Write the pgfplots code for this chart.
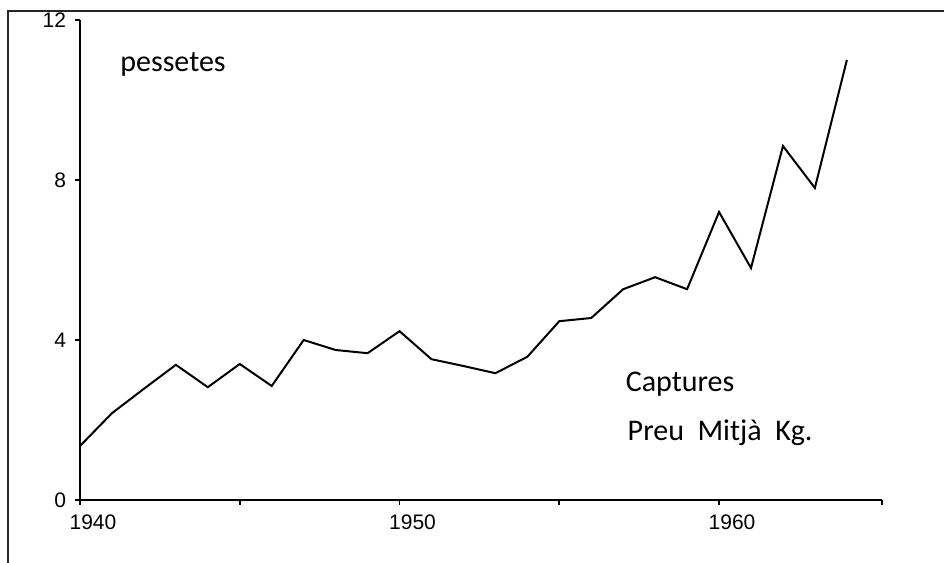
\documentclass[border=0pt]{standalone}
\usepackage{pgfplots}
\pgfplotsset{compat=1.18}
\usepackage{fontspec}
\setmainfont{Liberation Sans}
\newfontfamily\calibri{Carlito}

\begin{document}
\begin{tikzpicture}
\begin{axis}[
    scale only axis,
    width=401pt, height=240pt,
    xmin=1940, xmax=1965.1,
    ymin=0, ymax=12,
    axis lines=left,
    axis line style={-, line width=0.8pt},
    tick align=outside,
    major tick length=2.5pt,
    tick style={line width=0.8pt, black},
    xtick={1940,1945,1950,1955,1960,1965.1},
    xticklabels={1940,,1950,,1960,},
    ytick={0,4,8,12},
    xticklabel style={xshift=6.5pt, yshift=-1.5pt},
    yticklabel style={xshift=-1pt},
    ticklabel style={font=\fontsize{10.5}{11}\selectfont},
    /pgf/number format/assume math mode=true,
    clip=false,
]
\addplot[black, line width=1pt] table {
1940 1.35
1941 2.17
1942 2.78
1943 3.38
1944 2.82
1945 3.40
1946 2.85
1947 4.00
1948 3.75
1949 3.67
1950 4.22
1951 3.52
1952 3.35
1953 3.17
1954 3.58
1955 4.47
1956 4.55
1957 5.27
1958 5.57
1959 5.27
1960 7.20
1961 5.80
1962 8.85
1963 7.80
1964 11.00
};
\node[anchor=base west, inner sep=0pt, font=\calibri\fontsize{15}{16}\selectfont]
  at (axis cs:1941.25,10.7) {pessetes};
\node[anchor=base west, inner sep=0pt, font=\calibri\fontsize{15}{16}\selectfont]
  at (axis cs:1957.07,2.72) {Captures};
\node[anchor=base west, inner sep=0pt, font=\calibri\fontsize{15}{16}\selectfont]
  at (axis cs:1957.13,1.5) {Preu\ \ Mitjà\ \ Kg.};
\end{axis}
% scanned frame (left and top edges)
\draw[line width=1.3pt, black!85] (-36pt,-40pt) -- (-36pt,244.5pt) -- (440pt,244.5pt);
\pgfresetboundingbox
\path[use as bounding box] (-40pt,-31.5pt) rectangle (432pt,250pt);
\end{tikzpicture}
\end{document}
